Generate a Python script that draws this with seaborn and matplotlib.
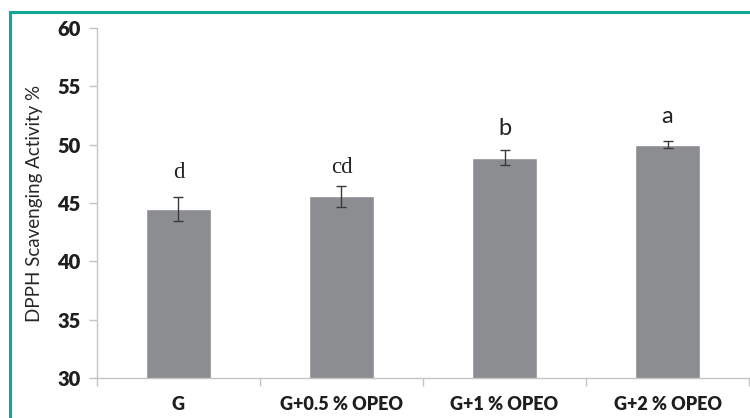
import matplotlib
matplotlib.use("Agg")
import matplotlib.pyplot as plt
from matplotlib.patches import Rectangle
import seaborn as sns
import pandas as pd

# ── Data ───────────────────────────────────────────────
treatments = ["G", "G+0.5 % OPEO", "G+1 % OPEO", "G+2 % OPEO"]
dpph_mean  = [44.45, 45.58, 48.90, 50.00]
dpph_err   = [1.03, 0.90, 0.67, 0.30]
letters    = ["d", "cd", "b", "a"]
# baseline height (in % units) where each significance letter sits
letter_y   = [47.15, 47.57, 50.83, 51.86]
# first two letters were typed in a serif face, last two in a sans one
letter_serif = [True, True, False, False]

df = pd.DataFrame({"treatment": treatments, "dpph": dpph_mean})

sns.set_theme(style="white")
plt.rcParams["font.family"] = ["Lato", "DejaVu Sans"]

fig = plt.figure(figsize=(7.5, 4.18), dpi=100)
ax = fig.add_axes([0.1293, 0.0957, 0.8694, 0.8373])

sns.barplot(data=df, x="treatment", y="dpph", color="#8c8d91",
            width=0.4, errorbar=None, saturation=1, ax=ax, zorder=2)

xs = range(len(treatments))
ax.errorbar(xs, dpph_mean, yerr=dpph_err, fmt="none", ecolor="#3a3a3a",
            elinewidth=1.0, capsize=3.3, capthick=1.0, zorder=3)

for x, ly, lab, serif in zip(xs, letter_y, letters, letter_serif):
    fam = ["Liberation Serif"] if serif else ["Lato", "DejaVu Sans"]
    ax.text(x, ly, lab, ha="center", va="baseline",
            fontsize=16.5 if serif else 17, family=fam, color="#222222")

ax.set_ylim(30, 60)
ax.set_xlim(-0.5, 3.5)
ax.set_yticks(range(30, 61, 5))
ax.set_xlabel("")
ax.set_ylabel("DPPH Scavenging Activity %", fontsize=13.5, color="#262626",
              labelpad=10)

for s in ["top", "right"]:
    ax.spines[s].set_visible(False)
for s in ["left", "bottom"]:
    ax.spines[s].set_color("#c4c4c4")
    ax.spines[s].set_linewidth(1.0)

ax.tick_params(axis="y", which="major", length=6, width=1, color="#c4c4c4",
               labelsize=14.5, labelcolor="#1e1e1e", pad=6, left=True)
for t in ax.get_yticklabels():
    t.set_fontweight("heavy")

# category boundary ticks on x
ax.set_xticks([-0.5, 0.5, 1.5, 2.5, 3.5], minor=True)
ax.tick_params(axis="x", which="minor", length=6, width=1, color="#c4c4c4",
               bottom=True)
ax.tick_params(axis="x", which="major", length=0, labelsize=13,
               labelcolor="#1e1e1e", pad=13)
for t in ax.get_xticklabels():
    t.set_fontweight("heavy")

# teal frame around the panel
fig.patches.append(Rectangle((9.5 / 750, -0.1), 1.2, 1 - 12.5 / 418 + 0.1,
                             transform=fig.transFigure, fill=False,
                             edgecolor="#12a897", linewidth=2.2))

fig.savefig("out.png", dpi=100, facecolor="white")
